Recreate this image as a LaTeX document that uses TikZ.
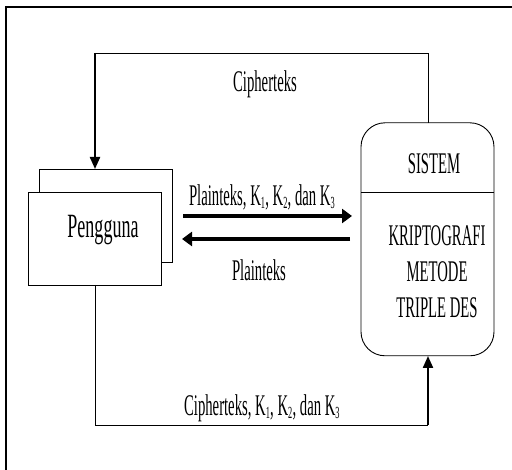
\documentclass[tikz,border=0pt]{standalone}
\usepackage{fontspec}
\usepackage{graphicx}
\setmainfont{Liberation Serif}
\usetikzlibrary{arrows.meta}

% condensed serif lettering used for every label
\newcommand{\cond}[1]{\scalebox{0.49}[1]{#1}}
\newcommand{\lbl}{\fontsize{30}{36}\selectfont}
\newcommand{\ksub}[1]{\textsubscript{\fontsize{17}{17}\selectfont #1}}

\begin{document}
\begin{tikzpicture}[x=1pt,y=-1pt,
  thin line/.style={line width=0.9pt},
  flow/.style={line width=3.2pt,-{Triangle[length=10pt,width=14pt]}},
  loop flow/.style={line width=2.2pt,-{Triangle[length=12pt,width=10pt]}},
  entity/.style={draw,line width=0.9pt,fill=white,minimum width=133pt,minimum height=93pt,inner sep=0pt},
  label text/.style={inner sep=0pt,font=\lbl}]

\useasboundingbox (0,0) rectangle (512,470);

% page frame (top and left edges)
\draw[line width=1.2pt] (6,470) -- (6,7) -- (512,7);

% external entity: user, drawn as two stacked boxes
\node[entity] (penggunaBack) at (105.5,215.5) {};
\node[entity] (pengguna) at (94.8,238.5) {};
\node[label text] (penggunaText) at (103,230) {\fontsize{34}{34}\selectfont\scalebox{0.53}[1]{Pengguna}};

% process: the triple DES system
\node[draw,line width=0.9pt,rounded corners=24pt,minimum width=133pt,minimum height=233pt,inner sep=0pt] (sistem) at (427.5,239.3) {};
\coordinate (divL) at (361,192);
\coordinate (divR) at (494,192);
\draw[thin line] (divL) -- (divR);
\node[label text] (sistemText) at (434,164) {\cond{SISTEM}};
\node[label text,align=center] (prosesText) at (437,272) {\cond{KRIPTOGRAFI}\\\cond{METODE}\\\cond{TRIPLE DES}};

% top loop: ciphertext back to the user
\coordinate (topR) at (428,53);
\coordinate (topL) at (95,53);
\coordinate (inUser) at (95,169);
\coordinate (sysTop) at (428,123);
\draw[thin line] (sysTop) -- (topR) -- (topL);
\draw[loop flow] (topL) -- (inUser);
\node[label text] (lblCipher) at (265,84) {\cond{Cipherteks}};

% middle flows
\coordinate (plainA) at (183,216);
\coordinate (plainB) at (352,216);
\coordinate (plainC) at (350,239);
\coordinate (plainD) at (182,239);
\draw[flow] (plainA) -- (plainB);
\draw[flow] (plainC) -- (plainD);
\node[label text] (lblPlainKey) at (262,197) {\cond{Plainteks, K\ksub{1}, K\ksub{2}, dan K\ksub{3}}};
\node[label text] (lblPlain) at (259,270) {\cond{Plainteks}};

% bottom loop: ciphertext and keys into the system
\coordinate (userBot) at (95,285);
\coordinate (botL) at (95,425);
\coordinate (botR) at (428,425);
\coordinate (sysBot) at (428,356);
\draw[thin line] (userBot) -- (botL) -- (botR);
\draw[loop flow] (botR) -- (sysBot);
\node[label text] (lblCipherKey) at (262,408) {\cond{Cipherteks, K\ksub{1}, K\ksub{2}, dan K\ksub{3}}};

\end{tikzpicture}
\end{document}
